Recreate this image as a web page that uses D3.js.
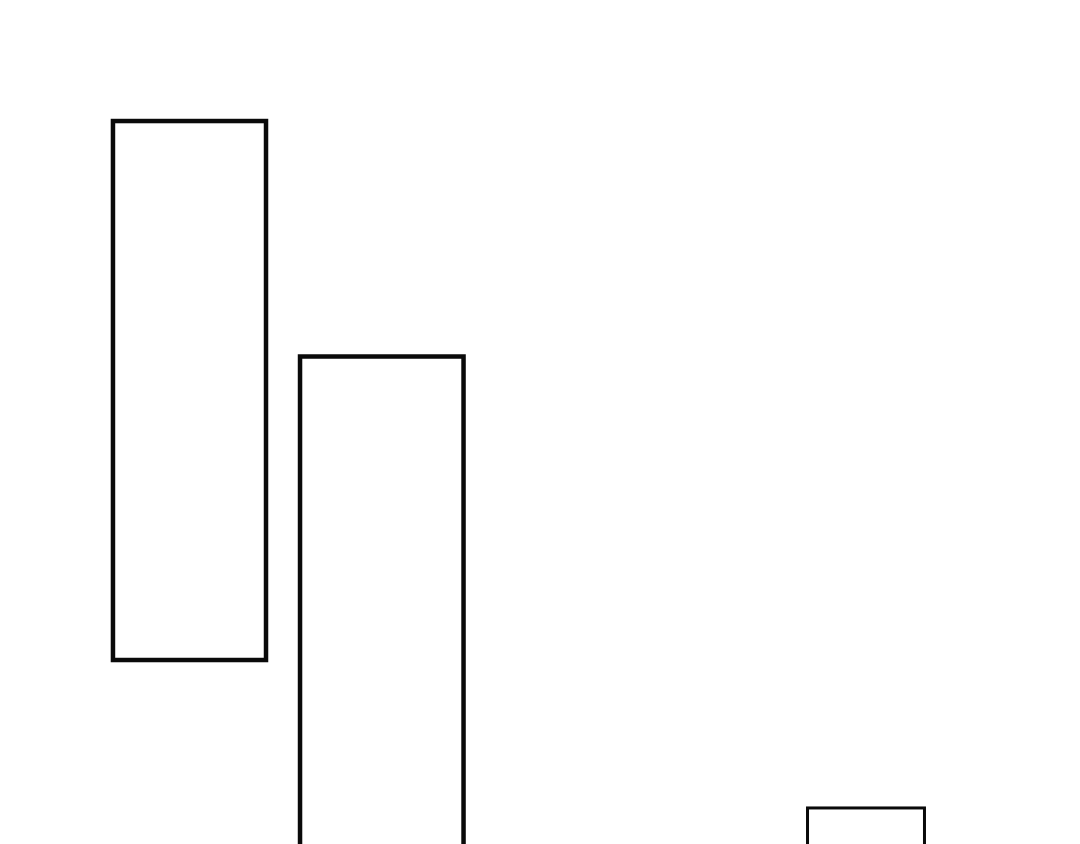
<!DOCTYPE html>
<meta http-equiv="Content-Type" content="text/html; charset=utf-8">
<style>
  html, body { margin: 0; padding: 0; background: #fff; overflow: hidden; }
</style>
<body>
<script src="https://d3js.org/d3.v7.min.js" charset="utf-8"></script>
<script>
var W = 1080, H = 844;

// bar extents (x and y in chart units 0..100)
var categories = ["A", "B", "C"];
var xStart = [10.46, 27.78, 74.77];
var xEnd   = [24.63, 42.92, 85.60];
var yLow   = [21.80, -10.0, -10.0];
var yHigh  = [85.66, 57.76, 4.27];

var svg = d3.select("body").append("svg").attr("width", W).attr("height", H);

var x = d3.scaleLinear().domain([0, 100]).range([0, W]);
var y = d3.scaleLinear().domain([0, 100]).range([H, 0]);

var bars = categories.map(function(c, i) {
	return {cat: c, x0: xStart[i], x1: xEnd[i], lo: yLow[i], hi: yHigh[i]};
});

svg.selectAll("rect").data(bars).enter().append("rect")
	.attr("x", function(d) { return x(d.x0); })
	.attr("y", function(d) { return y(d.hi); })
	.attr("width", function(d) { return x(d.x1) - x(d.x0); })
	.attr("height", function(d) { return y(d.lo) - y(d.hi); })
	.attr("fill", "#fff")
	.attr("stroke", "#0a0a0a")
	.attr("stroke-width", function(d, i) { return i < 2 ? 4.5 : 3; });
</script>
</body>
</html>
